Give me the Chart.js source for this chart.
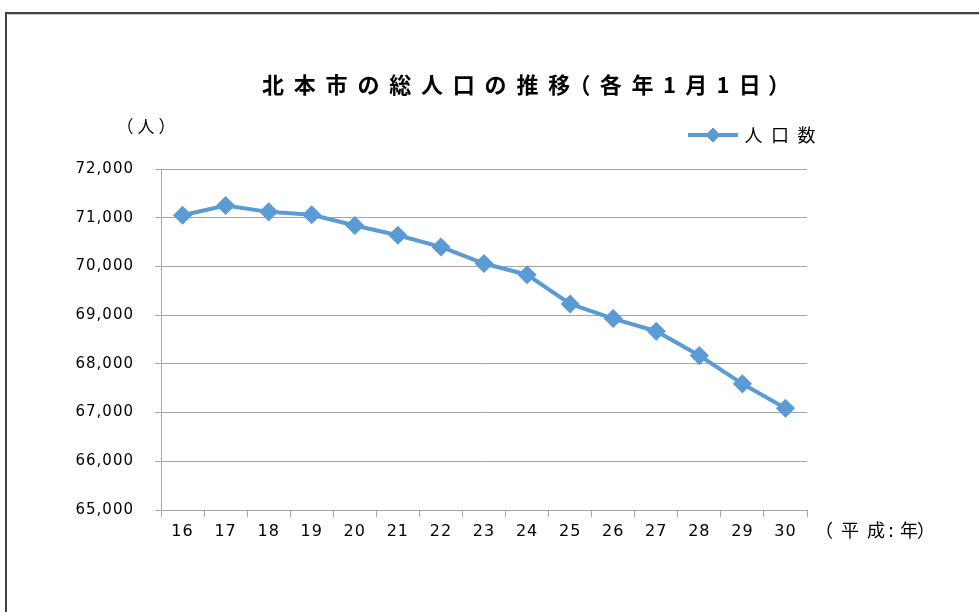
<!DOCTYPE html>
<html>
<head>
<meta charset="utf-8">
<script src="https://cdn.jsdelivr.net/npm/chart.js@4"></script>
<style>
html,body{margin:0;padding:0;background:#fff;}
#wrap{position:relative;width:979px;height:612px;}
</style>
</head>
<body>
<div id="wrap"><canvas id="c" width="979" height="612"></canvas></div>
<script>
// ---- data ----
const years = ['16','17','18','19','20','21','22','23','24','25','26','27','28','29','30'];
const population = [71050, 71250, 71120, 71060, 70840, 70640, 70400, 70060, 69830, 69230, 68930, 68670, 68170, 67590, 67090];
const seriesName = '人口数';
const titleText = '北本市の総人口の推移（各年1月1日）';
const yUnitText = '（人）';
const xUnitText = '（平成: 年）';
const yMin = 65000, yMax = 72000, yStep = 1000;

const BLUE = '#5B9BD5';
const GRID = '#A6A6A6';
const CJK = '"Noto Sans CJK JP", "Noto Sans", sans-serif';

function setSpacing(ctx, v) { try { ctx.letterSpacing = v; } catch(e) {} }

function drawChars(ctx, chars, centers, y, font, color) {
  ctx.save();
  ctx.font = font;
  ctx.fillStyle = color || '#000';
  ctx.textAlign = 'center';
  ctx.textBaseline = 'middle';
  setSpacing(ctx, '0px');
  for (let i = 0; i < chars.length; i++) ctx.fillText(chars[i], centers[i], y);
  ctx.restore();
}

// proportional title layout: wide cells for kanji/kana, narrow for digits and brackets
function drawTitle(ctx, text, left, y, size, gap) {
  ctx.save();
  ctx.font = 'bold ' + size + 'px ' + CJK;
  ctx.fillStyle = '#000';
  ctx.textBaseline = 'middle';
  ctx.textAlign = 'left';
  setSpacing(ctx, '0px');
  let x = left;
  for (const ch of Array.from(text)) {
    let cell;
    if (ch === '（') { cell = 10; ctx.fillText(ch, x - 0.52 * size, y); }
    else if (ch === '）') { cell = 10; ctx.fillText(ch, x - 0.12 * size, y); }
    else if (/[0-9]/.test(ch)) { cell = 12; ctx.textAlign = 'center'; ctx.fillText(ch, x + cell / 2, y); ctx.textAlign = 'left'; }
    else { cell = size; ctx.textAlign = 'center'; ctx.fillText(ch, x + cell / 2, y); ctx.textAlign = 'left'; }
    x += cell + gap;
  }
  ctx.restore();
}

const decor = {
  id: 'decor',
  beforeDraw(chart) {
    const ctx = chart.ctx;
    ctx.save();
    ctx.strokeStyle = '#404040';
    ctx.lineWidth = 2;
    ctx.beginPath();
    ctx.moveTo(6, 612); ctx.lineTo(6, 13); ctx.lineTo(979, 13);
    ctx.stroke();
    ctx.strokeStyle = '#c8c8c8';
    ctx.lineWidth = 1;
    ctx.beginPath();
    ctx.moveTo(7.5, 14.5); ctx.lineTo(979, 14.5);
    ctx.stroke();
    ctx.restore();
    setSpacing(ctx, '1px');
  },
  afterDraw(chart) {
    const ctx = chart.ctx;
    setSpacing(ctx, '0px');
    drawTitle(ctx, titleText, 262, 85, 22, 9.8);
    drawChars(ctx, Array.from(yUnitText), [125, 146, 167], 127, '17px ' + CJK, '#000');
    drawChars(ctx, Array.from(xUnitText), [824, 850, 876, 891, 899, 909, 926], 530, '18px ' + CJK, '#000');
    // legend
    const ds = chart.data.datasets[0];
    ctx.save();
    ctx.strokeStyle = ds.borderColor;
    ctx.lineWidth = 4;
    ctx.beginPath();
    ctx.moveTo(688, 135); ctx.lineTo(738, 135);
    ctx.stroke();
    ctx.fillStyle = ds.backgroundColor;
    ctx.strokeStyle = ds.borderColor;
    ctx.lineWidth = 1;
    Chart.helpers.drawPoint(ctx, {pointStyle: 'rectRot', radius: 7, borderWidth: 1}, 713, 135);
    ctx.restore();
    drawChars(ctx, Array.from(ds.label), [753.5, 780, 806.5], 135, '18px ' + CJK, '#000');
  }
};

new Chart(document.getElementById('c'), {
  type: 'line',
  data: {
    labels: years,
    datasets: [{
      label: seriesName,
      data: population,
      borderColor: BLUE,
      backgroundColor: BLUE,
      borderWidth: 4,
      pointStyle: 'rectRot',
      pointRadius: 8.5,
      pointBorderWidth: 1.5,
      pointBackgroundColor: BLUE,
      pointBorderColor: BLUE,
      tension: 0,
      fill: false
    }]
  },
  options: {
    responsive: false,
    animation: false,
    devicePixelRatio: 1,
    layout: { padding: { top: 169, right: 172, bottom: 62, left: 0 } },
    plugins: {
      legend: { display: false },
      title: { display: false },
      tooltip: { enabled: false }
    },
    scales: {
      x: {
        offset: true,
        grid: { offset: true, drawOnChartArea: false, drawTicks: true, tickLength: 7, color: GRID },
        border: { display: true, color: GRID, width: 1 },
        ticks: { color: '#000', padding: 5, font: { family: '"DejaVu Sans"', size: 16 }, maxRotation: 0, autoSkip: false },
        afterFit(scale) { scale.height = 40; }
      },
      y: {
        min: yMin, max: yMax,
        grid: { color: GRID, tickLength: 6, drawTicks: true },
        border: { display: true, color: GRID, width: 1 },
        ticks: {
          stepSize: yStep,
          color: '#000',
          padding: 21,
          font: { family: '"DejaVu Sans"', size: 15 },
          callback: v => v.toLocaleString('en-US')
        },
        afterFit(scale) { scale.width = 161; }
      }
    }
  },
  plugins: [decor]
});
</script>
</body>
</html>
